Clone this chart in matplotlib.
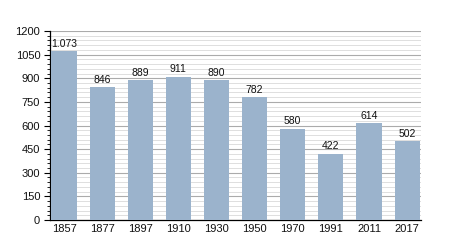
import matplotlib
matplotlib.use("Agg")
import matplotlib.pyplot as plt
from matplotlib.ticker import MultipleLocator

years = ["1857", "1877", "1897", "1910", "1930", "1950", "1970", "1991", "2011", "2017"]
population = [1073, 846, 889, 911, 890, 782, 580, 422, 614, 502]
value_labels = ["1.073", "846", "889", "911", "890", "782", "580", "422", "614", "502"]

plt.rcParams['font.family'] = ['Liberation Sans', 'DejaVu Sans']

fig = plt.figure(figsize=(4.5, 2.5), dpi=100)
ax = fig.add_axes([0.111, 0.12, 0.825, 0.756])

x = list(range(len(years)))
ax.bar(x, population, width=0.66, color="#9bb3cc", zorder=3)
for xi, v, lab in zip(x, population, value_labels):
    ax.text(xi, v + 14, lab, ha="center", va="bottom", fontsize=7.5, color="#111111", zorder=4)

ax.set_xlim(-0.37, len(years) - 1 + 0.37)
ax.set_ylim(0, 1200)
ax.yaxis.set_major_locator(MultipleLocator(150))
ax.yaxis.set_minor_locator(MultipleLocator(30))
ax.grid(axis="y", which="major", color="#ababab", linewidth=0.8, zorder=1)
ax.grid(axis="y", which="minor", color="#dedede", linewidth=0.7, zorder=1)
ax.set_xticks(x)
ax.set_xticklabels(years)
ax.tick_params(axis="x", length=0, labelsize=8, pad=3, colors="#111111")
ax.tick_params(axis="y", which="major", length=4, width=0.8, labelsize=8, pad=3, labelcolor="#111111")
ax.tick_params(axis="y", which="minor", length=2, width=0.6)
for s in ["top", "right"]:
    ax.spines[s].set_visible(False)
ax.spines["left"].set_linewidth(0.9)
ax.spines["bottom"].set_linewidth(0.9)

fig.savefig("out.png", dpi=100)
